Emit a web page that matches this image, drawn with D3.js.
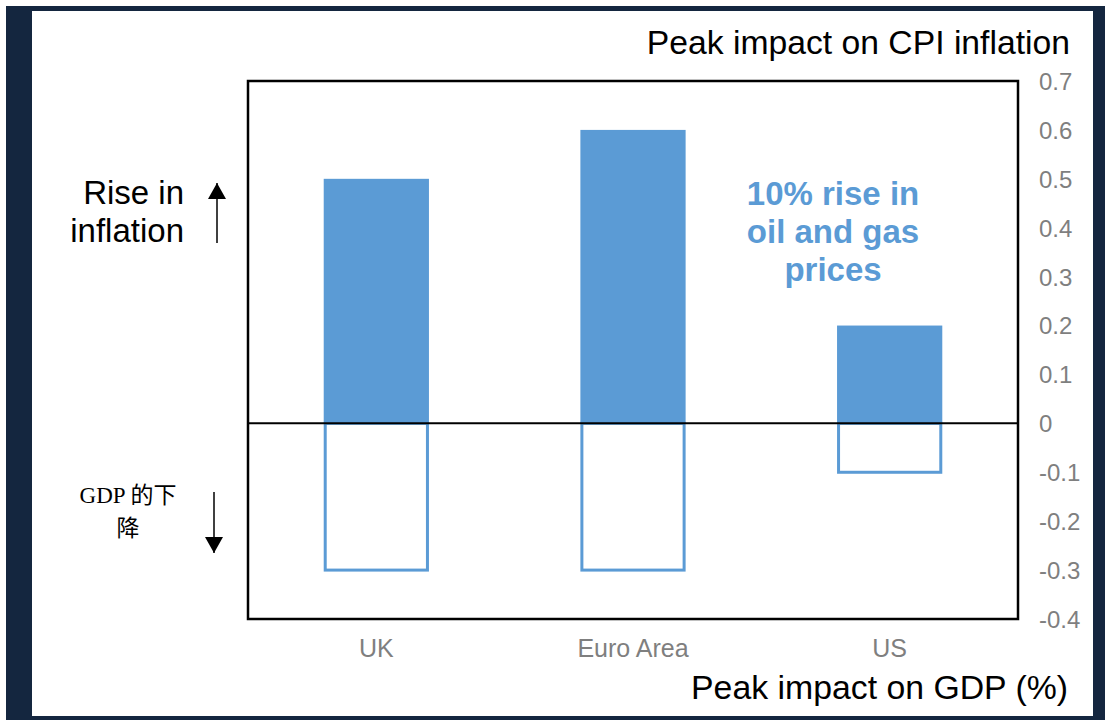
<!DOCTYPE html>
<html>
<head>
<meta charset="utf-8">
<script src="https://cdn.jsdelivr.net/npm/d3@7"></script>
<style>
  html, body { margin: 0; padding: 0; background: #ffffff; }
  svg { display: block; }
</style>
</head>
<body>
<svg id="chart" width="1105" height="720"></svg>
<script>
const categories = ["UK", "Euro Area", "US"];
const cpiImpact = [0.5, 0.6, 0.2];
const gdpImpact = [-0.3, -0.3, -0.1];
const yTicks = [0.7, 0.6, 0.5, 0.4, 0.3, 0.2, 0.1, 0, -0.1, -0.2, -0.3, -0.4];
const annotationLines = ["10% rise in", "oil and gas", "prices"];
const riseLines = ["Rise in", "inflation"];
const fallLines = ["GDP 的下", "降"];

const svg = d3.select("#chart");
const W = 1105, H = 720;
const blue = "#5B9BD5";
const grey = "#7F7F7F";
const sans = "'Liberation Sans', Arial, sans-serif";

// Frame / border
svg.append("rect").attr("x", 6).attr("y", 6).attr("width", W - 6).attr("height", H - 6).attr("fill", "#14263F");
svg.append("rect").attr("x", 32).attr("y", 11).attr("width", 1093 - 32).attr("height", 716 - 11).attr("fill", "#ffffff");

const plot = { left: 248, right: 1018, top: 81, bottom: 619 };

const x = d3.scaleBand().domain(categories).range([plot.left, plot.right]).paddingInner(0.59).paddingOuter(0.295);
const y = d3.scaleLinear().domain([-0.4, 0.7]).range([plot.bottom, plot.top]);

// Filled bars (CPI)
svg.append("g").selectAll("rect").data(categories).join("rect")
  .attr("x", d => x(d))
  .attr("width", x.bandwidth())
  .attr("y", (d, i) => y(Math.max(0, cpiImpact[i])))
  .attr("height", (d, i) => Math.abs(y(cpiImpact[i]) - y(0)))
  .attr("fill", blue);

// Hollow bars (GDP)
svg.append("g").selectAll("rect").data(categories).join("rect")
  .attr("x", d => x(d) + 1.5)
  .attr("width", x.bandwidth() - 3)
  .attr("y", (d, i) => y(0))
  .attr("height", (d, i) => Math.abs(y(gdpImpact[i]) - y(0)))
  .attr("fill", "none")
  .attr("stroke", blue)
  .attr("stroke-width", 3);

// Zero line
svg.append("line")
  .attr("x1", plot.left).attr("x2", plot.right)
  .attr("y1", y(0)).attr("y2", y(0))
  .attr("stroke", "#000").attr("stroke-width", 2);

// Plot frame
svg.append("rect")
  .attr("x", plot.left).attr("y", plot.top)
  .attr("width", plot.right - plot.left).attr("height", plot.bottom - plot.top)
  .attr("fill", "none").attr("stroke", "#000").attr("stroke-width", 2.5);

// Right axis
const yAxis = d3.axisRight(y).tickValues(yTicks).tickSize(0).tickPadding(0)
  .tickFormat(d => d === 0 ? "0" : d3.format(".1f")(d).replace("−", "-"));
const gy = svg.append("g").attr("transform", `translate(1039,0)`).call(yAxis);
gy.select(".domain").remove();
gy.selectAll("text").attr("fill", grey).attr("font-family", sans).attr("font-size", 24).attr("text-anchor", "start").attr("dy", "0.35em");

// Bottom axis
const xAxis = d3.axisBottom(x).tickSize(0).tickPadding(0);
const gx = svg.append("g").attr("transform", `translate(0,657)`).call(xAxis);
gx.select(".domain").remove();
gx.selectAll("text").attr("fill", grey).attr("font-family", sans).attr("font-size", 25).attr("y", 0).attr("dy", "0");

// Titles
svg.append("text").attr("x", 1070).attr("y", 54).attr("text-anchor", "end")
  .attr("font-family", sans).attr("font-size", 33.7).attr("fill", "#000")
  .text("Peak impact on CPI inflation");
svg.append("text").attr("x", 1068).attr("y", 699).attr("text-anchor", "end")
  .attr("font-family", sans).attr("font-size", 33.8).attr("fill", "#000")
  .text("Peak impact on GDP (%)");

// Annotation
svg.append("text").attr("text-anchor", "middle").attr("font-family", sans)
  .attr("font-size", 33).attr("font-weight", "bold").attr("fill", blue)
  .selectAll("tspan").data(annotationLines).join("tspan")
  .attr("x", 833).attr("y", (d, i) => 205 + i * 38).text(d => d);

// Rise in inflation
svg.append("text").attr("text-anchor", "end").attr("font-family", sans)
  .attr("font-size", 33).attr("fill", "#000")
  .selectAll("tspan").data(riseLines).join("tspan")
  .attr("x", 184).attr("y", (d, i) => 204 + i * 38).text(d => d);

// GDP fall
svg.append("text").attr("text-anchor", "middle").attr("font-family", "'Liberation Serif', 'Noto Sans CJK SC', serif")
  .attr("font-size", 23).attr("fill", "#000")
  .selectAll("tspan").data(fallLines).join("tspan")
  .attr("x", 128).attr("y", (d, i) => 503 + i * 33).text(d => d);

// Arrows
function arrow(xp, y1, y2, up) {
  svg.append("line").attr("x1", xp).attr("x2", xp).attr("y1", y1).attr("y2", y2)
    .attr("stroke", "#000").attr("stroke-width", 1.5);
  const tip = up ? y1 : y2;
  const base = up ? y1 + 16 : y2 - 16;
  svg.append("path")
    .attr("d", `M${xp},${tip} L${xp - 9},${base} L${xp + 9},${base} Z`)
    .attr("fill", "#000");
}
arrow(217, 183, 243, true);
arrow(214, 492, 553, false);
</script>
</body>
</html>
